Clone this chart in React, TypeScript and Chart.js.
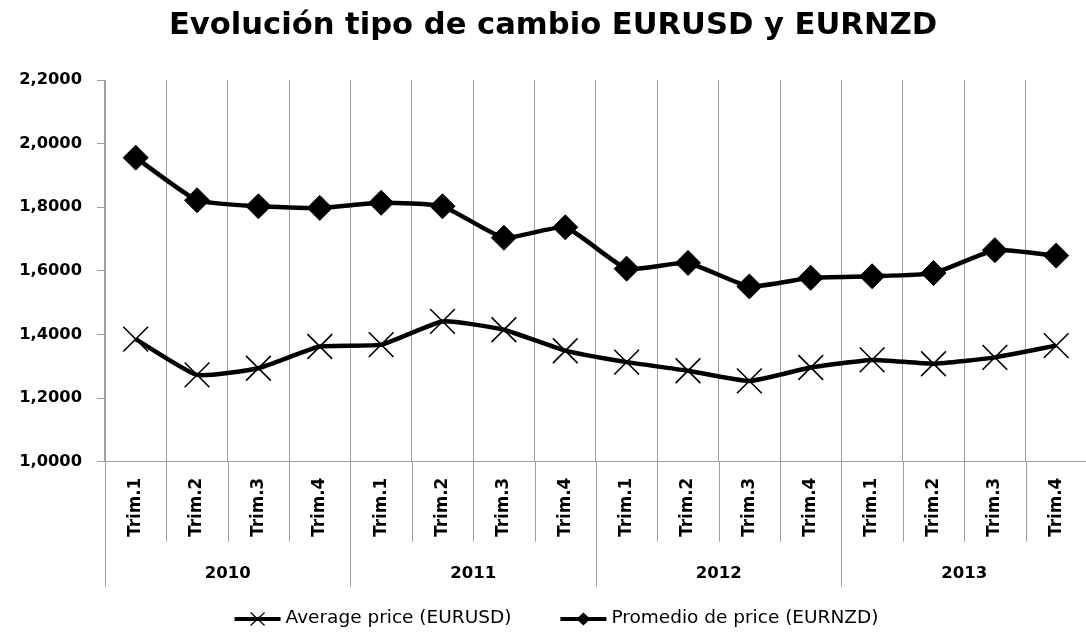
import { useEffect, useRef } from 'react';
import { Chart, registerables } from 'chart.js';

Chart.register(...registerables);

const categories = [
  'Trim.1', 'Trim.2', 'Trim.3', 'Trim.4',
  'Trim.1', 'Trim.2', 'Trim.3', 'Trim.4',
  'Trim.1', 'Trim.2', 'Trim.3', 'Trim.4',
  'Trim.1', 'Trim.2', 'Trim.3', 'Trim.4',
];
const years = ['2010', '2011', '2012', '2013'];
const seriesNames = ['Average price (EURUSD)', 'Promedio de price (EURNZD)'];
const eurusd = [1.3855, 1.273, 1.294, 1.362, 1.368, 1.441, 1.415, 1.349, 1.313, 1.286, 1.254, 1.296, 1.32, 1.308, 1.328, 1.365];
const eurnzd = [1.956, 1.822, 1.803, 1.798, 1.814, 1.803, 1.704, 1.737, 1.607, 1.625, 1.551, 1.578, 1.583, 1.593, 1.665, 1.648];
const titleText = 'Evolución tipo de cambio EURUSD y EURNZD';

const FONT = '"DejaVu Sans", sans-serif';
const GRID = '#a0a0a0';
const TEXT = '#000000';
const CANVAS_W = 1106;
const CANVAS_H = 632;

const multiLevelAxis = {
  id: 'multiLevelAxis',
  afterDraw(chart: any) {
    const { ctx, chartArea, scales } = chart;
    const x = scales.x;
    const n = categories.length;
    const step = x.getPixelForValue(1) - x.getPixelForValue(0);
    ctx.save();
    ctx.strokeStyle = GRID;
    ctx.lineWidth = 1;
    for (let i = 0; i <= n; i++) {
      const px = x.getPixelForValue(Math.min(i, n - 1)) + (i < n ? -step / 2 : step / 2);
      const major = i % 4 === 0;
      const y2 = chartArea.bottom + (major ? 125 : 80);
      const ax = Math.round(px) + 0.5;
      ctx.beginPath();
      ctx.moveTo(ax, chartArea.bottom);
      ctx.lineTo(ax, y2);
      ctx.stroke();
    }
    ctx.fillStyle = TEXT;
    ctx.font = 'bold 16.5px ' + FONT;
    ctx.textAlign = 'center';
    ctx.textBaseline = 'middle';
    years.forEach((yr, g) => {
      const cx = (x.getPixelForValue(g * 4) + x.getPixelForValue(g * 4 + 3)) / 2;
      ctx.fillText(yr, cx, chartArea.bottom + 112);
    });

    // legend
    ctx.font = '18.5px ' + FONT;
    const w1 = ctx.measureText(seriesNames[0]).width;
    const w2 = ctx.measureText(seriesNames[1]).width;
    const lineLen = 46;
    const gapText = 5;
    const gapItems = 49;
    const total = lineLen + gapText + w1 + gapItems + lineLen + gapText + w2;
    let lx = 556.5 - total / 2;
    const ly = 619;
    ctx.textAlign = 'left';
    ctx.strokeStyle = '#000';
    ctx.fillStyle = '#000';
    // item 1
    ctx.lineWidth = 4;
    ctx.beginPath();
    ctx.moveTo(lx, ly);
    ctx.lineTo(lx + lineLen, ly);
    ctx.stroke();
    const c1 = lx + lineLen / 2;
    ctx.lineWidth = 1.2;
    ctx.beginPath();
    ctx.moveTo(c1 - 7, ly - 6.5);
    ctx.lineTo(c1 + 7, ly + 6.5);
    ctx.moveTo(c1 + 7, ly - 6.5);
    ctx.lineTo(c1 - 7, ly + 6.5);
    ctx.stroke();
    ctx.fillStyle = TEXT;
    ctx.fillText(seriesNames[0], lx + lineLen + gapText, ly - 1);
    lx += lineLen + gapText + w1 + gapItems;
    // item 2
    ctx.lineWidth = 4;
    ctx.beginPath();
    ctx.moveTo(lx, ly);
    ctx.lineTo(lx + lineLen, ly);
    ctx.stroke();
    const c2 = lx + lineLen / 2;
    ctx.fillStyle = '#000';
    ctx.beginPath();
    ctx.moveTo(c2 - 7, ly);
    ctx.lineTo(c2, ly - 6.5);
    ctx.lineTo(c2 + 7, ly);
    ctx.lineTo(c2, ly + 6.5);
    ctx.closePath();
    ctx.fill();
    ctx.fillStyle = TEXT;
    ctx.fillText(seriesNames[1], lx + lineLen + gapText, ly - 1);
    ctx.restore();
  },
};

export default function App() {
  const ref = useRef<HTMLCanvasElement | null>(null);
  useEffect(() => {
    if (!ref.current) return;
    const chart = new Chart(ref.current, {
      type: 'line',
      data: {
        labels: categories,
        datasets: [
          {
            label: seriesNames[0],
            data: eurusd,
            borderColor: '#000',
            backgroundColor: '#000',
            borderWidth: 4.5,
            tension: 0.15,
            fill: false,
            pointStyle: 'crossRot',
            pointRadius: 17.5,
            pointHoverRadius: 17.5,
            pointBorderWidth: 1.6,
            pointBorderColor: '#000',
            clip: false,
          },
          {
            label: seriesNames[1],
            data: eurnzd,
            borderColor: '#000',
            backgroundColor: '#000',
            borderWidth: 4.5,
            tension: 0.15,
            fill: false,
            pointStyle: 'rectRot',
            pointRadius: 12.5,
            pointHoverRadius: 12.5,
            pointBorderWidth: 1,
            pointBackgroundColor: '#000',
            pointBorderColor: '#000',
            clip: false,
          },
        ],
      },
      options: {
        responsive: false,
        animation: false,
        events: [],
        layout: { padding: { left: 0, right: 0, top: 0, bottom: 44.3 } },
        plugins: {
          legend: { display: false },
          tooltip: { enabled: false },
          title: {
            display: true,
            text: titleText,
            color: TEXT,
            font: { family: FONT, size: 30.6, weight: 'bold' },
            padding: { top: 7.5, bottom: 35.8 },
          },
        },
        scales: {
          x: {
            type: 'category',
            offset: true,
            grid: {
              display: true,
              offset: true,
              drawOnChartArea: true,
              drawTicks: false,
              color: GRID,
              lineWidth: 1,
            },
            border: { display: true, color: GRID, width: 1 },
            ticks: {
              autoSkip: false,
              minRotation: 90,
              maxRotation: 90,
              padding: 16,
              color: TEXT,
              font: { family: FONT, size: 16.8, weight: 'bold' },
            },
            afterFit(axis: any) {
              axis.height = 126;
              axis.paddingLeft = 0;
              axis.paddingRight = 0;
            },
          },
          y: {
            min: 1,
            max: 2.2,
            grid: {
              display: true,
              drawOnChartArea: false,
              drawTicks: true,
              tickLength: 8,
              color: GRID,
              lineWidth: 1,
            },
            border: { display: true, color: GRID, width: 1 },
            ticks: {
              stepSize: 0.2,
              padding: 15,
              color: TEXT,
              font: { family: FONT, size: 16.3, weight: 'bold' },
              callback: (v: any) => Number(v).toFixed(4).replace('.', ','),
            },
            afterFit(axis: any) {
              axis.width = 105;
            },
          },
        },
      },
      plugins: [multiLevelAxis],
    });
    return () => chart.destroy();
  }, []);
  return (
    <div style={{ position: 'absolute', left: 0, top: 0, width: 1086, height: 632, overflow: 'hidden', background: '#fff' }}>
      <canvas ref={ref} width={CANVAS_W} height={CANVAS_H} style={{ display: 'block' }} />
    </div>
  );
}
